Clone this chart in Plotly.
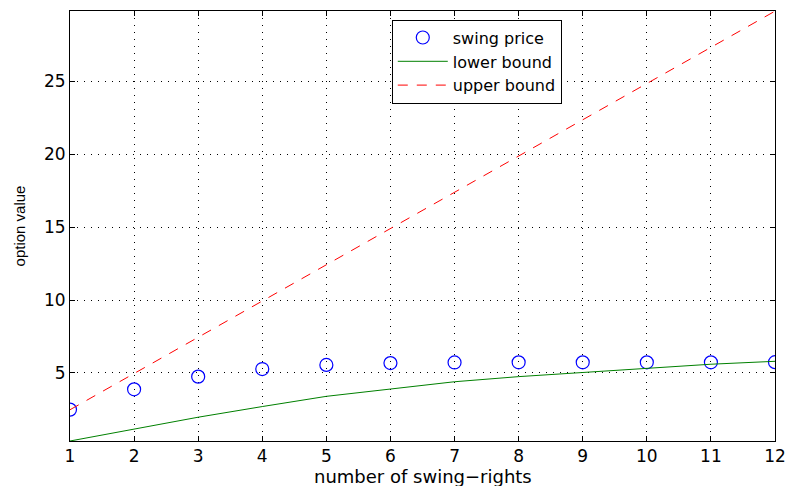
import plotly.graph_objects as go

rights = [1, 2, 3, 4, 5, 6, 7, 8, 9, 10, 11, 12]
swing_price = [2.49, 3.88, 4.75, 5.27, 5.55, 5.68, 5.72, 5.73, 5.73, 5.73, 5.73, 5.74]
lower_bound = [0.34, 1.16, 1.97, 2.70, 3.40, 3.90, 4.40, 4.75, 5.02, 5.32, 5.60, 5.80]
upper_bound = [2.48, 4.97, 7.45, 9.93, 12.41, 14.90, 17.38, 19.86, 22.34, 24.83, 27.31, 29.79]

x_ticks = list(range(1, 13))
y_ticks = [5, 10, 15, 20, 25]

fig = go.Figure()
fig.add_trace(go.Scatter(x=rights, y=swing_price, mode="markers", name="swing price",
                         marker=dict(symbol="circle-open", size=13, color="#0000ff", line=dict(width=1.2))))
fig.add_trace(go.Scatter(x=rights, y=lower_bound, mode="lines", name="lower bound",
                         line=dict(color="#008000", width=1)))
fig.add_trace(go.Scatter(x=rights, y=upper_bound, mode="lines", name="upper bound",
                         line=dict(color="#ff0000", width=1, dash="10px,9px")))

axis_common = dict(showline=True, linecolor="black", linewidth=1, mirror="ticks",
                   ticks="inside", ticklen=5, tickcolor="black", automargin=False,
                   ticklabeloverflow="allow",
                   showgrid=True, gridcolor="black", gridwidth=1, griddash="1px,6px",
                   zeroline=False, tickfont=dict(family="DejaVu Sans", size=17, color="black"))

fig.update_xaxes(range=[1, 12], tickvals=x_ticks, **axis_common)
fig.update_yaxes(range=[0.34, 29.8], tickvals=y_ticks, title=dict(text="option value",
                 font=dict(family="Liberation Sans", size=15, color="black"), standoff=14), **axis_common)

fig.add_annotation(text="number of swing\u2212rights", x=0.5, xref="paper", y=-0.0814, yref="paper",
                   xanchor="center", yanchor="middle", showarrow=False,
                   font=dict(family="DejaVu Sans", size=18, color="black"))

fig.update_layout(
    width=785, height=486,
    margin=dict(l=70, r=10, t=11, b=45),
    paper_bgcolor="white", plot_bgcolor="white",
    showlegend=True,
    legend=dict(x=0.577, y=0.98, xanchor="center", yanchor="top",
                bgcolor="white", bordercolor="black", borderwidth=1,
                font=dict(family="DejaVu Sans", size=16, color="black"),
                tracegroupgap=0, itemwidth=50),
)

fig.write_html("out.html", config={"displayModeBar": False},
               post_script="document.body.style.margin='0';document.body.style.overflow='hidden';")
